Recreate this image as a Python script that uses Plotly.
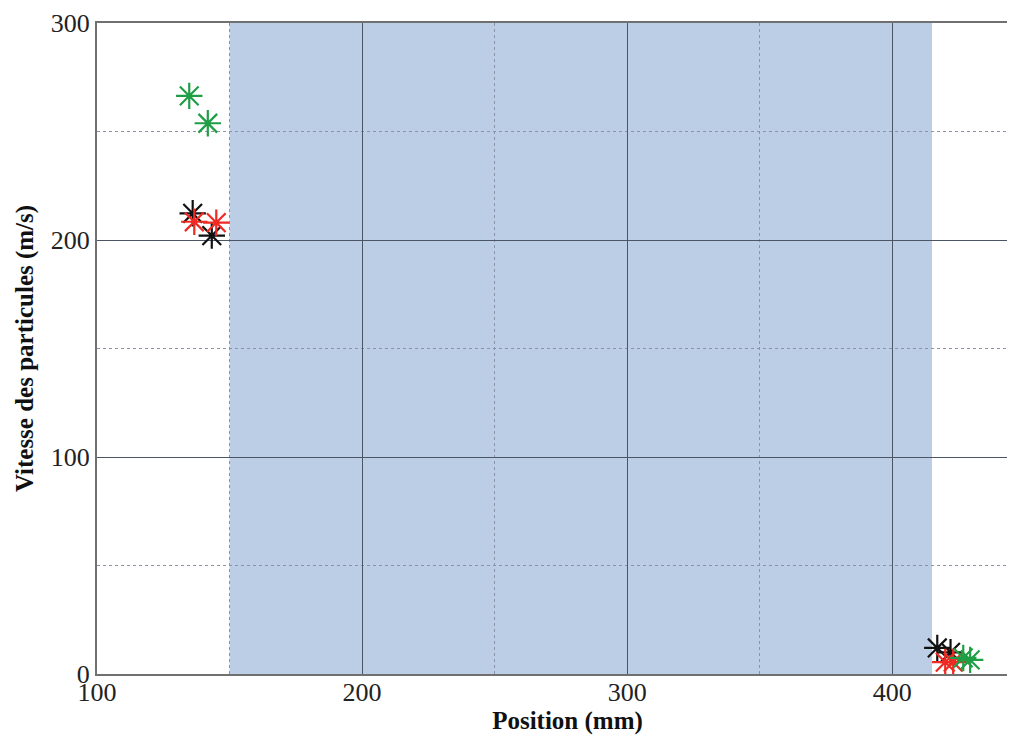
import plotly.graph_objects as go

# Data
black_x = [136.1, 143.3, 417.0, 422.0]
black_y = [212.3, 202.0, 12.0, 10.0]
red_x = [136.7, 145.0, 420.0, 423.0]
red_y = [208.4, 208.0, 5.5, 5.5]
green_x = [134.8, 141.8, 426.8, 429.4]
green_y = [266.4, 253.8, 7.4, 6.5]
zone_x = [150, 415]
x_ticks = [100, 200, 300, 400]
y_ticks = [0, 100, 200, 300]

fig = go.Figure()

for xs, ys, col in [(black_x, black_y, "#111111"), (red_x, red_y, "#ee2a22"), (green_x, green_y, "#1f9e45")]:
    fig.add_trace(go.Scatter(
        x=xs, y=ys, mode="markers",
        marker=dict(symbol="asterisk-open", size=22, color=col, line=dict(color=col, width=2.2)),
        showlegend=False,
    ))

fig.add_shape(type="rect", xref="x", yref="y", x0=zone_x[0], x1=zone_x[1], y0=0, y1=300,
              fillcolor="#bccde6", line=dict(width=0), layer="below")

font_family = "Liberation Serif"
fig.update_layout(
    width=1030, height=738,
    margin=dict(l=89, r=0, t=15, b=72),
    paper_bgcolor="white", plot_bgcolor="white",
    font=dict(family=font_family, size=26, color="#222222"),
    xaxis=dict(
        range=[100, 455], tickvals=x_ticks, ticks="", showline=True, linecolor="#707070",
        linewidth=2, mirror=True, showgrid=True, gridcolor="#4a5566", gridwidth=1.2,
        minor=dict(dtick=50, tick0=0, showgrid=True, gridcolor="#8a94a6", griddash="dot", gridwidth=1),
        zeroline=False, ticklen=0, ticklabelstandoff=-6,
        title=dict(text="<b>Position (mm)</b>", font=dict(size=25, family=font_family, color="#111111"), standoff=0),
        tickfont=dict(size=26),
    ),
    yaxis=dict(
        range=[0, 300], tickvals=y_ticks, ticks="", showline=True, linecolor="#707070",
        linewidth=2, showgrid=True, gridcolor="#4a5566", gridwidth=1.2,
        minor=dict(dtick=50, tick0=0, showgrid=True, gridcolor="#8a94a6", griddash="dot", gridwidth=1),
        zeroline=False,
        title=dict(text="<b>Vitesse des particules (m/s)</b>", font=dict(size=25, family=font_family, color="#111111"), standoff=10),
        tickfont=dict(size=26),
    ),
)

fig.write_html("out.html")
